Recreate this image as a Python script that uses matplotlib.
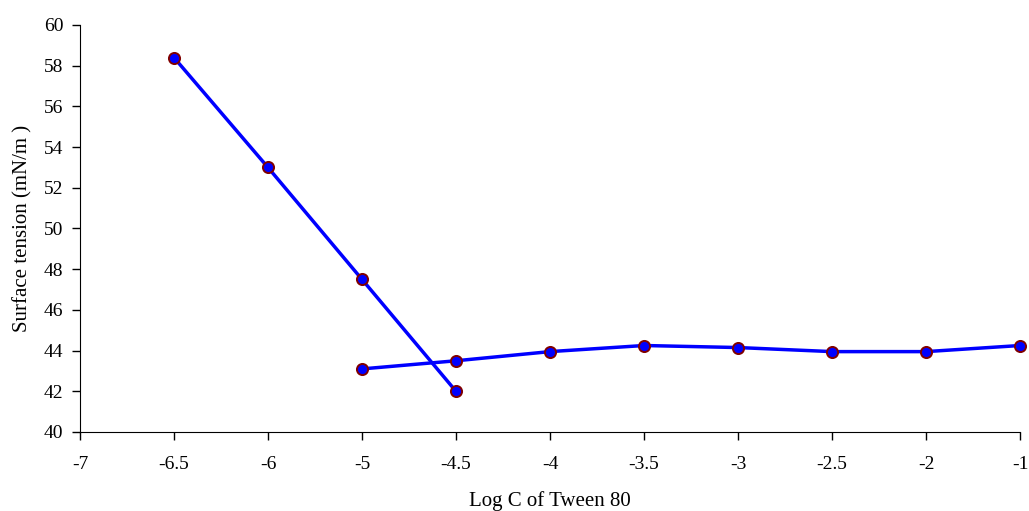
import matplotlib
matplotlib.use("Agg")
import matplotlib.pyplot as plt

plt.rcParams['font.family'] = ['Liberation Serif', 'DejaVu Serif']

# category axis (Excel-style line chart): labels equally spaced
categories = ["-7", "-6.5", "-6", "-5", "-4.5", "-4", "-3.5", "-3", "-2.5", "-2", "-1"]

# data
log_c_1 = ["-6.5", "-6", "-5", "-4.5"]
tension_1 = [58.4, 53.0, 47.5, 42.0]

log_c_2 = ["-5", "-4.5", "-4", "-3.5", "-3", "-2.5", "-2", "-1"]
tension_2 = [43.1, 43.5, 43.95, 44.25, 44.15, 43.95, 43.95, 44.25]

fig = plt.figure(figsize=(10.29, 5.11), dpi=100)
ax = fig.add_axes([0.0777, 0.1546, 0.9136, 0.7965])

for labels, ys in [(log_c_1, tension_1), (log_c_2, tension_2)]:
    xs = [categories.index(c) for c in labels]
    ax.plot(xs, ys, color='#0000FF', lw=2.5, marker='o', markersize=8,
            markerfacecolor='#0000FF', markeredgecolor='#800000',
            markeredgewidth=1.4, clip_on=False, zorder=3)

ax.set_xlim(0, len(categories) - 1)
ax.set_ylim(40, 60)
ax.set_xticks(range(len(categories)))
ax.set_xticklabels(categories)
ax.set_yticks(range(40, 61, 2))

for s in ['top', 'right']:
    ax.spines[s].set_visible(False)
ax.tick_params(direction='out', length=6, width=1, labelsize=14, pad=6)
ax.tick_params(axis='x', pad=11)

ax.set_xlabel("Log C of Tween 80", fontsize=15, labelpad=13)
ax.set_ylabel("Surface tension (mN/m )", fontsize=15, labelpad=8)

fig.savefig("out.png", dpi=100)
